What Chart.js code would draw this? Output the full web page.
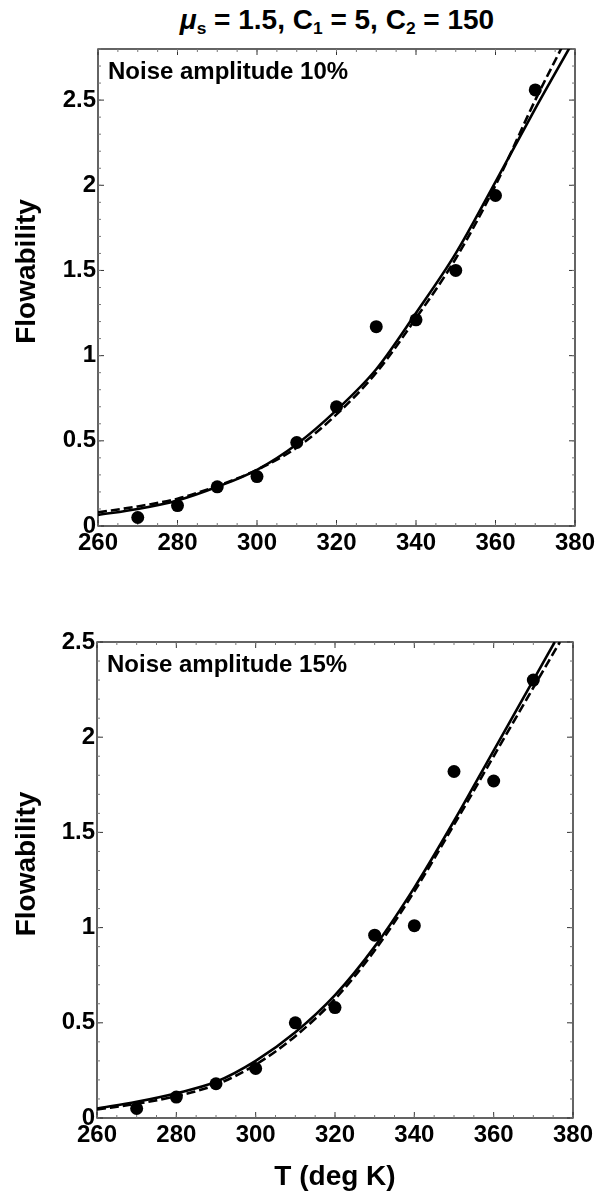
<!DOCTYPE html>
<html>
<head>
<meta charset="utf-8">
<script src="https://cdn.jsdelivr.net/npm/chart.js@4.4.1/dist/chart.umd.min.js"></script>
<style>
html,body{margin:0;padding:0;background:#fff;}
body{width:605px;height:1194px;position:relative;overflow:hidden;font-family:"Liberation Sans",Arial,Helvetica,sans-serif;}
#title{position:absolute;left:87px;width:500px;top:4px;text-align:center;font-weight:bold;font-size:28px;line-height:32px;color:#000;white-space:nowrap;}
#title i{font-style:italic;}
#title sub{font-size:0.62em;vertical-align:-0.3em;line-height:0;}
#w1{position:absolute;left:0;top:0;width:605px;height:595px;}
#w2{position:absolute;left:0;top:595px;width:605px;height:599px;}
canvas{display:block;}
</style>
</head>
<body>
<div id="title"><i>μ</i><sub>s</sub> = 1.5, C<sub>1</sub> = 5, C<sub>2</sub> = 150</div>
<div id="w1"><canvas id="c1" width="605" height="595"></canvas></div>
<div id="w2"><canvas id="c2" width="605" height="599"></canvas></div>
<script>
// ---- data ----
const tempPoints = [270, 280, 290, 300, 310, 320, 330, 340, 350, 360, 370];
const flow10 = [0.05, 0.12, 0.23, 0.29, 0.49, 0.70, 1.17, 1.21, 1.50, 1.94, 2.56];
const flow15 = [0.05, 0.11, 0.18, 0.26, 0.50, 0.58, 0.96, 1.01, 1.82, 1.77, 2.30];

const fitT10Solid = [260, 270, 280, 290, 300, 310, 320, 330, 340, 350, 360, 370, 378.7];
const fit10Solid  = [0.065, 0.10, 0.15, 0.23, 0.33, 0.48, 0.68, 0.92, 1.25, 1.60, 2.02, 2.45, 2.81];
const fitT10Dash  = [260, 270, 280, 290, 300, 310, 320, 330, 340, 350, 360, 370, 376.7];
const fit10Dash   = [0.08, 0.115, 0.16, 0.235, 0.33, 0.46, 0.655, 0.90, 1.22, 1.57, 2.00, 2.50, 2.81];

const fitT15Solid = [260, 270, 280, 290, 300, 310, 320, 330, 340, 350, 360, 370, 375.4];
const fit15Solid  = [0.05, 0.085, 0.13, 0.19, 0.30, 0.45, 0.645, 0.90, 1.21, 1.56, 1.93, 2.30, 2.50];
const fitT15Dash  = [260, 270, 280, 290, 300, 310, 320, 330, 340, 350, 360, 370, 376.7];
const fit15Dash   = [0.045, 0.075, 0.115, 0.175, 0.28, 0.43, 0.625, 0.88, 1.19, 1.54, 1.90, 2.26, 2.50];

const xTickValues = [260, 280, 300, 320, 340, 360, 380];
const yTickValues = [0, 0.5, 1, 1.5, 2, 2.5];

const panelLabels = ['Noise amplitude 10%', 'Noise amplitude 15%'];
const xAxisTitle = 'T (deg K)';
const yAxisTitle = 'Flowability';

// ---- helpers ----
const zip = (xs, ys) => xs.map((x, i) => ({x: x, y: ys[i]}));
const FONT = '"Liberation Sans", Arial, Helvetica, sans-serif';
Chart.defaults.font.family = FONT;
Chart.defaults.color = '#000';

const framePlugin = {
  id: 'frameTicks',
  beforeDatasetsDraw(chart) {
    const {ctx, chartArea: a, scales: {x, y}} = chart;
    ctx.save();
    ctx.strokeStyle = '#111';
    ctx.lineWidth = 1.3;
    ctx.strokeRect(a.left, a.top, a.right - a.left, a.bottom - a.top);
    ctx.lineWidth = 1;
    ctx.strokeStyle = '#333';
    x.ticks.forEach(t => {
      const px = x.getPixelForValue(t.value);
      ctx.beginPath();
      ctx.moveTo(px, a.bottom); ctx.lineTo(px, a.bottom - 6);
      ctx.moveTo(px, a.top); ctx.lineTo(px, a.top + 6);
      ctx.stroke();
    });
    y.ticks.forEach(t => {
      const py = y.getPixelForValue(t.value);
      ctx.beginPath();
      ctx.moveTo(a.left, py); ctx.lineTo(a.left + 6, py);
      ctx.moveTo(a.right, py); ctx.lineTo(a.right - 6, py);
      ctx.stroke();
    });
    ctx.strokeStyle = '#777';
    for (let v = x.min; v <= x.max + 1e-9; v += 5) {
      const px = x.getPixelForValue(v);
      ctx.beginPath();
      ctx.moveTo(px, a.bottom); ctx.lineTo(px, a.bottom - 3);
      ctx.moveTo(px, a.top); ctx.lineTo(px, a.top + 3);
      ctx.stroke();
    }
    for (let v = y.min; v <= y.max + 1e-9; v += 0.1) {
      const py = y.getPixelForValue(v);
      ctx.beginPath();
      ctx.moveTo(a.left, py); ctx.lineTo(a.left + 3, py);
      ctx.moveTo(a.right, py); ctx.lineTo(a.right - 3, py);
      ctx.stroke();
    }
    ctx.restore();
  },
  afterDraw(chart, args, opts) {
    const {ctx, chartArea: a} = chart;
    ctx.save();
    ctx.fillStyle = '#000';
    // panel label
    ctx.font = 'bold 24px ' + FONT;
    ctx.textAlign = 'left';
    ctx.textBaseline = 'middle';
    ctx.fillText(opts.text, a.left + 10, a.top + 23);
    // y axis title (rotated), slightly above the frame centre as in the reference
    ctx.font = 'bold 28px ' + FONT;
    ctx.translate(27, (a.top + a.bottom) / 2 - 16);
    ctx.rotate(-Math.PI / 2);
    ctx.textAlign = 'center';
    ctx.fillText(yAxisTitle, 0, 0);
    ctx.restore();
  }
};

function makeChart(id, pts, fs, fsT, fd, fdT, yMax, label, showXTitle, pad, yW, xH) {
  return new Chart(document.getElementById(id), {
    type: 'scatter',
    data: {
      datasets: [
        {data: zip(tempPoints, pts), pointRadius: 6.5, pointHoverRadius: 6.5,
         backgroundColor: '#000', borderColor: '#000', borderWidth: 0, showLine: false, order: 0},
        {data: zip(fsT, fs), showLine: true, pointRadius: 0, borderColor: '#000', borderWidth: 2.6,
         cubicInterpolationMode: 'monotone', order: 2},
        {data: zip(fdT, fd), showLine: true, pointRadius: 0, borderColor: '#000', borderWidth: 2.6,
         borderDash: [9, 4], cubicInterpolationMode: 'monotone', order: 1}
      ]
    },
    options: {
      responsive: false,
      animation: false,
      devicePixelRatio: 1,
      layout: {padding: pad},
      plugins: {legend: {display: false}, tooltip: {enabled: false}, frameTicks: {text: label}},
      scales: {
        x: {
          type: 'linear', min: 260, max: 380,
          afterBuildTicks: s => { s.ticks = xTickValues.map(v => ({value: v})); },
          ticks: {font: {size: 24, weight: 'bold'}, color: '#000', padding: 3, maxRotation: 0,
                  callback: v => String(v)},
          grid: {display: false, drawTicks: false},
          border: {display: false},
          title: {display: showXTitle, text: xAxisTitle, font: {size: 28, weight: 'bold', lineHeight: 1.2},
                  color: '#000', padding: {top: 0, bottom: 0}},
          afterFit: s => { s.height = xH; }
        },
        y: {
          type: 'linear', min: 0, max: yMax,
          afterBuildTicks: s => { s.ticks = yTickValues.filter(v => v <= yMax).map(v => ({value: v})); },
          ticks: {font: {size: 24, weight: 'bold'}, color: '#000', padding: 2,
                  callback: v => String(v)},
          grid: {display: false, drawTicks: false},
          border: {display: false},
          title: {display: false, text: yAxisTitle},
          afterFit: s => { s.width = yW; }
        }
      }
    },
    plugins: [framePlugin]
  });
}

makeChart('c1', flow10, fit10Solid, fitT10Solid, fit10Dash, fitT10Dash, 2.8, panelLabels[0], false,
          {left: 0, right: 30, top: 49, bottom: 0}, 98, 69);
makeChart('c2', flow15, fit15Solid, fitT15Solid, fit15Dash, fitT15Dash, 2.5, panelLabels[1], true,
          {left: 0, right: 32, top: 47, bottom: 0}, 97, 76);
</script>
</body>
</html>
